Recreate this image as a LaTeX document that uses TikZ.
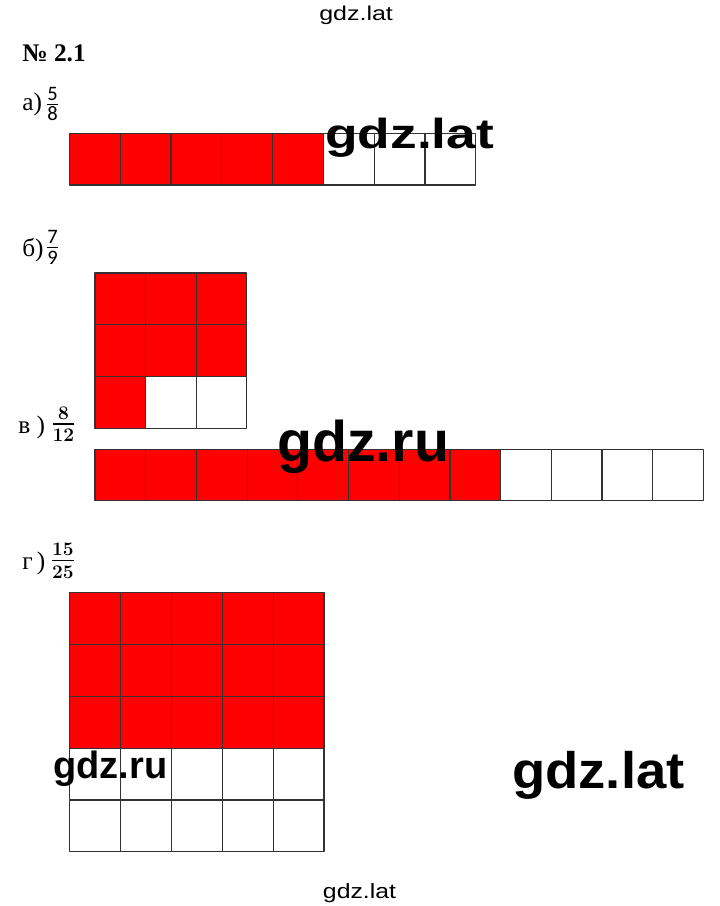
\documentclass[tikz,border=0pt]{standalone}
\usepackage{amsmath,graphicx}
\usepackage{fontspec}
\setmainfont{Liberation Serif}
\newfontfamily\wmfont{Liberation Sans}
\newfontfamily\carlito{Carlito}

\tikzset{
  cell/.style={line width=0.9pt,draw=black!80},
  lbl/.style={anchor=base west,inner sep=0pt,font=\fontsize{19}{22}\selectfont},
  frc/.style={inner sep=0pt,font=\fontsize{22}{26}\selectfont},
  frcbold/.style={frc,font=\fontsize{20}{24}\selectfont\boldmath},
  wm/.style={anchor=base west,inner sep=0pt,text=black}
}

\begin{document}
\begin{tikzpicture}[line cap=round,line join=round,x=0.75pt,y=-0.75pt]
			\useasboundingbox (0,0) rectangle (720,906);
			% а) 5/8
			\fill[red] (69.3,133.3) rectangle ++(254,51.7);
			\foreach \i in {0,...,7}
				\draw[cell] ({69.3+50.8*\i},133.3) rectangle ++(50.8,51.7);
			% б) 7/9
			\fill[red] (95,273) rectangle ++(151.8,103.6);
			\fill[red] (95,376.6) rectangle ++(50.6,51.8);
			\foreach \i in {0,1,2}
				\foreach \j in {0,1,2}
					\draw[cell] ({95+50.6*\i},{273+51.8*\j}) rectangle ++(50.6,51.8);
			% в) 8/12
			\fill[red] (95,449.3) rectangle ++(405.6,51.4);
			\foreach \i in {0,...,11}
				\draw[cell] ({95+50.7*\i},449.3) rectangle ++(50.7,51.4);
			% г) 15/25
			\fill[red] (69.5,592.7) rectangle ++(254.5,155.4);
			\foreach \i in {0,...,4}
				\foreach \j in {0,...,4}
					\draw[cell] ({69.5+50.9*\i},{592.7+51.8*\j}) rectangle ++(50.9,51.8);
			% labels
			\node[lbl] (title) at (22,61.5) {\bfseries № 2.1};
			\node[lbl] (la) at (22,110) {а)};
			\node[frc] (fa) at (52.5,104) {$\frac{\text{\carlito 5}}{\text{\carlito 8}}$};
			\node[lbl] (lb) at (22,256) {б)};
			\node[frc] (fb) at (52.5,247.5) {$\frac{\text{\carlito 7}}{\text{\carlito 9}}$};
			\node[lbl] (lc) at (18,433.3) {в )};
			\node[frcbold] (fc) at (63.5,424) {$\frac{\mathbf{8}}{\mathbf{12}}$};
			\node[lbl] (ld) at (22,569.3) {г\,)};
			\node[frcbold] (fd) at (63,560.8) {$\frac{\mathbf{15}}{\mathbf{25}}$};
			% watermarks
			\node[wm] (wmtop) at (319,21) {\scalebox{1.25}[1]{\wmfont\fontsize{15}{18}\selectfont gdz.lat}};
			\node[wm] (wma) at (325,148.3) {\scalebox{1.27}[1]{\wmfont\bfseries\fontsize{31.5}{36}\selectfont gdz.lat}};
			\node[wm] (wmc) at (277,461.7) {\wmfont\bfseries\fontsize{43}{48}\selectfont gdz.ru};
			\node[wm] (wmd) at (53,778.3) {\wmfont\bfseries\fontsize{28.5}{32}\selectfont gdz.ru};
			\node[wm] (wme) at (512,788.3) {\scalebox{1.06}[1]{\wmfont\bfseries\fontsize{38.5}{44}\selectfont gdz.lat}};
			\node[wm] (wmbot) at (322.7,898.3) {\scalebox{1.2}[1]{\wmfont\fontsize{15.5}{18}\selectfont gdz.lat}};
		\end{tikzpicture}
\end{document}
